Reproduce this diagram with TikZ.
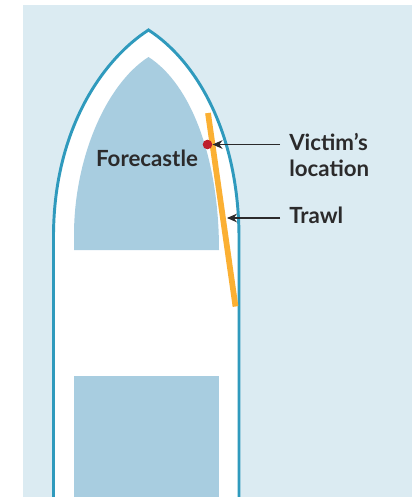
\documentclass[tikz,border=0pt]{standalone}
\usepackage{fontspec}
\setmainfont{Lato}
\usepackage{xcolor}
\usetikzlibrary{arrows.meta,positioning,calc}
\definecolor{seablue}{HTML}{DBEBF2}
\definecolor{hullblue}{HTML}{2F9ABD}
\definecolor{deckblue}{HTML}{A8CDE0}
\definecolor{trawlorange}{HTML}{FBB033}
\definecolor{victimred}{HTML}{BE1E2D}
\definecolor{labelgrey}{HTML}{2B2A2B}

\begin{document}
\begin{tikzpicture}[
    x=0.75pt, y=-0.75pt,
    hull/.style={draw=hullblue, fill=white, line width=2.2pt},
    deck/.style={fill=deckblue},
    trawlbar/.style={draw=trawlorange, line width=4.3pt},
    lbl/.style={font=\fontsize{16.7}{18.8}\selectfont\bfseries, text=labelgrey, align=left, inner sep=0pt},
    arr/.style={-{Stealth[length=7.5pt,width=6.5pt]}, line width=0.8pt, draw=labelgrey}
]
    \useasboundingbox (0,0) rectangle (419,497);
    \fill [seablue] (23,5) rectangle (412,497);

    % boat outline and decks
    \draw [hull] (53.5,500) -- (53.5,235) .. controls (54,130) and (102,60) .. (148.5,30)
        .. controls (195,60) and (238,130) .. (239,235) -- (239,500);
    \fill [deck] (74,250) -- (74,235) .. controls (74,160) and (105,85) .. (148.5,57)
        .. controls (192,85) and (219,160) .. (219,250) -- cycle;
    \fill [deck] (74,376) rectangle (219,497);

    % trawl and victim
    \coordinate (trawltop) at (208,113);
    \coordinate (trawlend) at (235.5,306.5);
    \draw [trawlbar] (trawltop) -- (trawlend);
    \node [circle, fill=victimred, inner sep=0pt, minimum size=7.2pt] (victim) at (207.5,144.5) {};
    \coordinate (trawlhit) at (227,218);

    \node [lbl, anchor=center] (forecastle) at (147,158) {Forecastle};
    \node [lbl, anchor=north west] (victimlabel) at (289,133.5) {Victim’s\\location};
    \node [lbl, anchor=north west] (trawllabel) at (289,206.5) {Trawl};

    \coordinate (victimstart) at (280,144.5);
    \coordinate (trawlstart) at (280,218);
    \draw [arr] (victimstart) -- (victim.east);
    \draw [arr] (trawlstart) -- (trawlhit);
\end{tikzpicture}
\end{document}
